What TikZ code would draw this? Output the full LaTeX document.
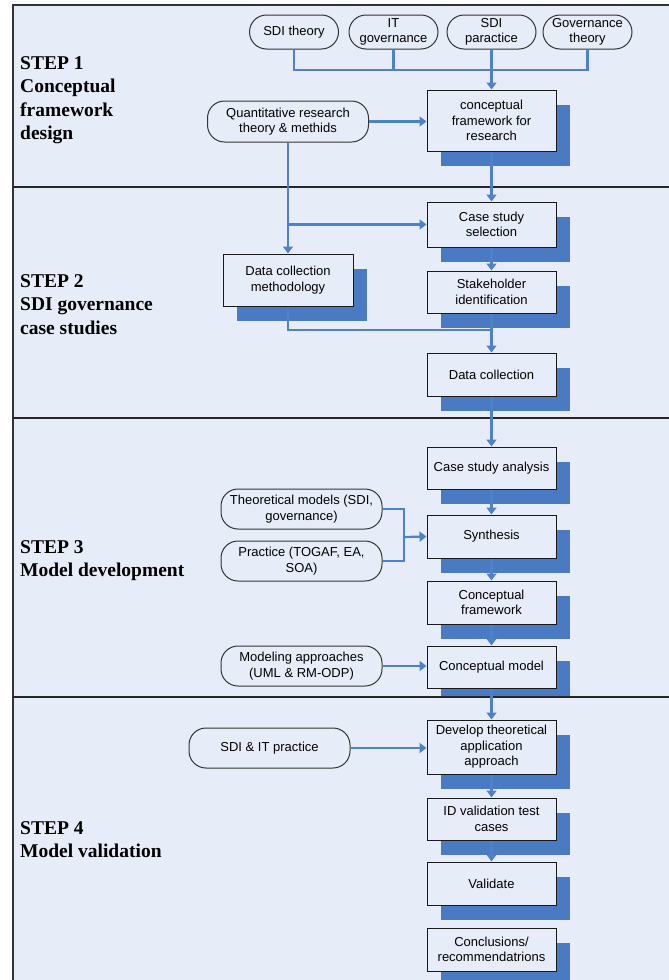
\documentclass[tikz,border=0pt]{standalone}
\usepackage{fontspec}
\setmainfont{Liberation Serif}
\newfontfamily\boxfont{Liberation Sans}
\usetikzlibrary{arrows.meta,shadows}
\definecolor{panelblue}{HTML}{E7EDF8}
\definecolor{shadeblue}{HTML}{4A7BC2}
\definecolor{lineblue}{HTML}{4F81C8}

\begin{document}
\begin{tikzpicture}[x=1pt,y=-1pt,
  stage/.style={rectangle, draw=black!90, line width=1pt, fill=panelblue, minimum width=129pt, align=center, inner sep=2pt, font=\boxfont\fontsize{13}{15.5}\selectfont, general shadow={fill=shadeblue, shadow xshift=14pt, shadow yshift=-15pt}},
  source/.style={rectangle, rounded corners=17pt, draw=black!80, line width=1pt, fill=panelblue, align=center, inner sep=2pt, font=\boxfont\fontsize{13}{15.5}\selectfont},
  steplabel/.style={anchor=north west, align=left, inner sep=0pt, font=\bfseries\fontsize{19.5}{23.5}\selectfont},
  link/.style={draw=lineblue, line width=2.2pt},
  arrow/.style={link, -{Triangle[width=10pt,length=7pt]}}]
\useasboundingbox (0,0) rectangle (669,980);
\fill [panelblue] (13,5) rectangle (690,1000);

\node [steplabel] (step1) at (20,56) {STEP 1\\Conceptual\\framework\\design};
\node [steplabel] (step2) at (20,274) {STEP 2\\SDI governance\\case studies};
\node [steplabel] (step3) at (20,540) {STEP 3\\Model development};

\node [source, minimum width=89pt, minimum height=34pt] (sdith) at (294,32) {SDI theory};
\node [source, minimum width=89pt, minimum height=34pt] (itgov) at (393.5,32) {IT\\governance};
\node [source, minimum width=89pt, minimum height=34pt] (sdipr) at (491.5,32) {SDI\\paractice};
\node [source, minimum width=89pt, minimum height=34pt] (govth) at (587.5,32) {Governance\\theory};
\node [source, minimum width=161pt, minimum height=41pt] (quant) at (288,121.5) {Quantitative research\\theory \& methids};
\node [stage, minimum height=61pt] (frame) at (491.5,120.5) {conceptual\\framework for\\research};

\node [stage, minimum height=45pt] (sel) at (491.5,224.5) {Case study\\selection};
\node [stage, minimum width=130pt, minimum height=52pt] (meth) at (288,280) {Data collection\\methodology};
\node [stage, minimum height=42pt] (stake) at (491.5,292) {Stakeholder\\identification};
\node [stage, minimum height=43pt] (coll) at (491.5,374.5) {Data collection};

\node [stage, minimum height=42pt] (ana) at (491.5,468) {Case study analysis};
\node [source, minimum width=161pt, minimum height=40pt] (theo) at (301.5,509) {Theoretical models (SDI,\\governance)};
\node [source, minimum width=161pt, minimum height=40pt] (prac) at (301.5,561) {Practice (TOGAF, EA,\\SOA)};
\node [stage, minimum height=43pt] (syn) at (491.5,536.5) {Synthesis};
\node [stage, minimum height=43pt] (cfw) at (491.5,602.5) {Conceptual\\framework};
\node [source, minimum width=161pt, minimum height=40pt] (model) at (301.5,666) {Modeling approaches\\(UML \& RM-ODP)};
\node [stage, minimum height=42pt] (cmod) at (491.5,667) {Conceptual model};

\fill [panelblue] (13,697) rectangle (690,1000);
\node [steplabel] (step4) at (20,821) {STEP 4\\Model validation};
\node [source, minimum width=161pt, minimum height=40pt] (sdiit) at (269.5,748) {SDI \& IT practice};
\node [stage, minimum height=54pt] (dev) at (491.5,747) {Develop theoretical\\application\\approach};
\node [stage, minimum height=42pt] (idv) at (491.5,819) {ID validation test\\cases};
\node [stage, minimum height=43pt] (val) at (491.5,883.5) {Validate};
\node [stage, minimum height=43pt] (concl) at (491.5,949.5) {Conclusions/\\recommendatrions};

\draw [line width=1.6pt, black!80] (13,1000) -- (13,5) -- (690,5);
\draw [line width=1.6pt, black!85] (13,187) -- (690,187);
\draw [line width=1.6pt, black!85] (13,418) -- (690,418);
\draw [line width=1.6pt, black!85] (13,697) -- (690,697);

\coordinate (bus) at (491.5,70);
\coordinate (join) at (491.5,330);
\coordinate (merge) at (404,537);
\draw [link] (sdith.south) |- (govth.south |- bus) -- (govth.south);
\draw [link] (itgov.south) -- (itgov.south |- bus);
\draw [arrow] (sdipr.south) -- (frame.north);
\draw [arrow] (quant.east) -- (quant.east -| frame.west);
\draw [arrow] (quant.south) -- (meth.north);
\draw [arrow] (quant.south |- sel.west) -- (sel.west);
\draw [arrow] (frame.south) -- (sel.north);
\draw [arrow] (sel.south) -- (stake.north);
\draw [link] (meth.south) |- (join);
\draw [arrow] (stake.south) -- (coll.north);
\draw [arrow] (coll.south) -- (ana.north);
\draw [arrow] (ana.south) -- (syn.north);
\draw [link] (theo.east) -| (merge) |- (prac.east);
\draw [arrow] (merge) -- (syn.west);
\draw [arrow] (syn.south) -- (cfw.north);
\draw [arrow] (cfw.south) -- (cmod.north);
\draw [arrow] (model.east) -- (model.east -| cmod.west);
\draw [arrow] (cmod.south) -- (dev.north);
\draw [arrow] (sdiit.east) -- (sdiit.east -| dev.west);
\draw [arrow] (dev.south) -- (idv.north);
\draw [arrow] (idv.south) -- (val.north);
\end{tikzpicture}
\end{document}
